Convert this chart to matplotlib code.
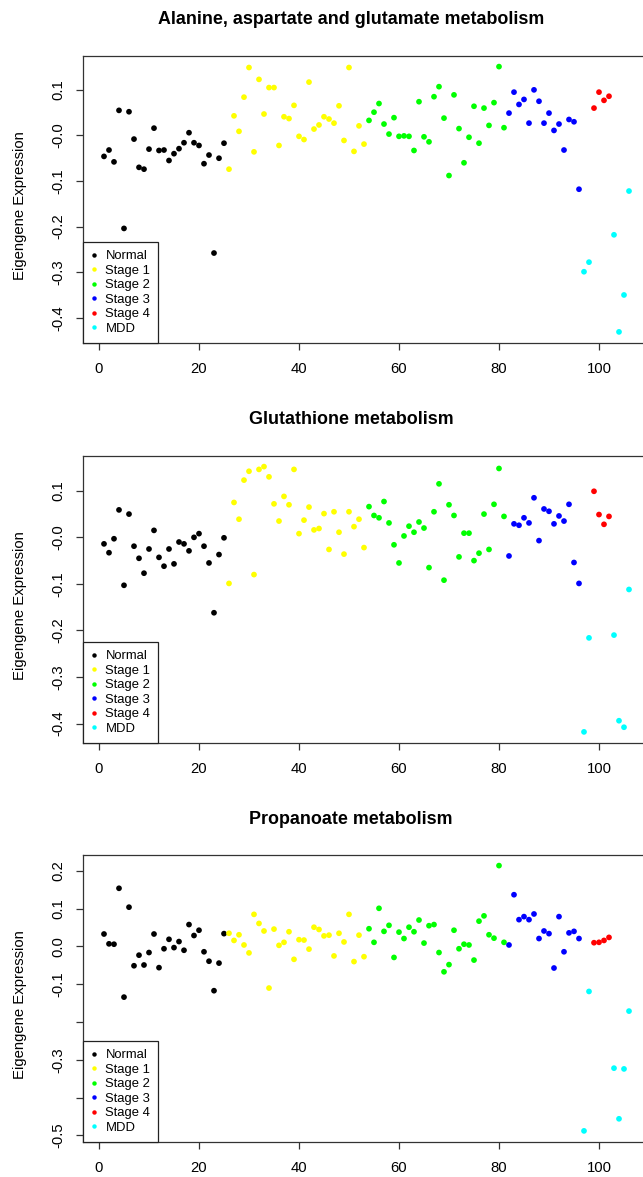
import numpy as np
import matplotlib
matplotlib.use("Agg")
import matplotlib.pyplot as plt
from matplotlib.lines import Line2D

plt.rcParams['font.family'] = ['Liberation Sans', 'DejaVu Sans']
plt.rcParams['axes.unicode_minus'] = False

# sample groups, in sample order (1..106)
group_runs = [("Normal", 25), ("Stage 1", 28), ("Stage 2", 28), ("Stage 3", 15),
              ("MDD", 2), ("Stage 4", 4), ("MDD", 4)]
legend_names = ["Normal", "Stage 1", "Stage 2", "Stage 3", "Stage 4", "MDD"]
group_colors = {"Normal": "black", "Stage 1": "yellow", "Stage 2": "#00FF00",
                "Stage 3": "blue", "Stage 4": "red", "MDD": "cyan"}

titles = ["Alanine, aspartate and glutamate metabolism",
          "Glutathione metabolism",
          "Propanoate metabolism"]

alanine = [
    -0.046, -0.032, -0.058, 0.055, -0.204, 0.052, -0.008, -0.070, -0.074, -0.030,
    0.016, -0.033, -0.032, -0.055, -0.040, -0.029, -0.016, 0.006, -0.016, -0.022,
    -0.062, -0.043, -0.258, -0.050, -0.017,
    -0.074, 0.043, 0.009, 0.084, 0.149, -0.036, 0.123, 0.047, 0.105, 0.105,
    -0.022, 0.041, 0.037, 0.066, -0.002, -0.009, 0.117, 0.014, 0.023, 0.041,
    0.036, 0.027, 0.065, -0.011, 0.149, -0.035, 0.021, -0.019,
    0.033, 0.051, 0.070, 0.025, 0.003, 0.039, -0.002, -0.001, -0.002, -0.033,
    0.074, -0.003, -0.014, 0.085, 0.107, 0.038, -0.088, 0.089, 0.015, -0.060,
    -0.004, 0.064, -0.017, 0.060, 0.022, 0.072, 0.151, 0.017,
    0.049, 0.095, 0.068, 0.079, 0.027, 0.100, 0.075, 0.027, 0.049, 0.011,
    0.025, -0.032, 0.035, 0.030, -0.118,
    -0.299, -0.278,
    0.060, 0.095, 0.077, 0.086,
    -0.218, -0.431, -0.350, -0.122]

glutathione = [
    -0.014, -0.033, -0.003, 0.059, -0.103, 0.050, -0.019, -0.045, -0.077, -0.025,
    0.015, -0.043, -0.062, -0.025, -0.057, -0.010, -0.014, -0.029, 0.000, 0.008,
    -0.019, -0.055, -0.162, -0.037, -0.001,
    -0.099, 0.075, 0.039, 0.123, 0.142, -0.080, 0.146, 0.152, 0.130, 0.072,
    0.035, 0.088, 0.070, 0.146, 0.008, 0.037, 0.065, 0.016, 0.019, 0.051,
    -0.026, 0.055, 0.011, -0.036, 0.055, 0.023, 0.039, -0.022,
    0.066, 0.047, 0.042, 0.077, 0.031, -0.016, -0.055, 0.003, 0.024, 0.011,
    0.033, 0.020, -0.065, 0.055, 0.115, -0.092, 0.070, 0.047, -0.042, 0.009,
    0.009, -0.050, -0.034, 0.050, -0.026, 0.071, 0.148, 0.045,
    -0.040, 0.029, 0.026, 0.042, 0.031, 0.085, -0.007, 0.061, 0.056, 0.029,
    0.046, 0.035, 0.071, -0.054, -0.099,
    -0.418, -0.216,
    0.099, 0.049, 0.028, 0.045,
    -0.210, -0.394, -0.408, -0.112]

propanoate = [
    0.033, 0.007, 0.006, 0.154, -0.134, 0.104, -0.051, -0.023, -0.049, -0.016,
    0.033, -0.056, -0.006, 0.019, -0.003, 0.013, -0.010, 0.058, 0.029, 0.043,
    -0.014, -0.039, -0.117, -0.044, 0.034,
    0.035, 0.016, 0.031, 0.004, -0.017, 0.085, 0.061, 0.041, -0.110, 0.046,
    0.003, 0.011, 0.039, -0.034, 0.018, 0.017, -0.007, 0.051, 0.045, 0.028,
    0.030, -0.025, 0.035, 0.012, 0.085, -0.040, 0.030, -0.027,
    0.047, 0.011, 0.101, 0.040, 0.056, -0.029, 0.038, 0.021, 0.051, 0.039,
    0.070, 0.009, 0.055, 0.058, -0.016, -0.067, -0.048, 0.043, -0.006, 0.006,
    0.004, -0.036, 0.067, 0.081, 0.031, 0.022, 0.214, 0.011,
    0.004, 0.137, 0.071, 0.079, 0.071, 0.086, 0.021, 0.041, 0.034, -0.057,
    0.079, -0.014, 0.036, 0.040, 0.021,
    -0.488, -0.119,
    0.010, 0.011, 0.016, 0.024,
    -0.322, -0.456, -0.324, -0.171]

yticks = [np.arange(-0.4, 0.11, 0.1), np.arange(-0.4, 0.11, 0.1), np.arange(-0.5, 0.21, 0.1)]
ytick_labels = [None, None, ["-0.5", "", "-0.3", "", "-0.1", "0.0", "0.1", "0.2"]]

groups = [g for g, n in group_runs for _ in range(n)]
colors = [group_colors[g] for g in groups]

W, H = 643, 1177
fig = plt.figure(figsize=(W / 100, H / 100), dpi=100)

tops = [56, 456, 855]
ax_h = 286.5
left, ax_w = 83, 567

for k, (vals, title) in enumerate(zip([alanine, glutathione, propanoate], titles)):
    vals = np.array(vals)
    x = np.arange(1, len(vals) + 1)
    ax = fig.add_axes([left / W, 1 - (tops[k] + ax_h) / H, ax_w / W, ax_h / H])
    ax.scatter(x, vals, s=17, c=colors, edgecolors='none', zorder=3)

    # R style 4% padding
    xr = x.max() - x.min()
    ax.set_xlim(x.min() - 0.04 * xr, x.max() + 0.04 * xr)
    yr = vals.max() - vals.min()
    ax.set_ylim(vals.min() - 0.04 * yr, vals.max() + 0.04 * yr)

    ax.set_xticks([0, 20, 40, 60, 80, 100])
    ax.set_yticks(yticks[k])
    if ytick_labels[k] is not None:
        ax.set_yticklabels(ytick_labels[k])
    else:
        ax.set_yticklabels(["%.1f" % v for v in yticks[k]])
    ax.tick_params(axis='both', direction='out', length=5, width=0.9,
                   color='#333333', labelsize=10.7, pad=8)
    ax.tick_params(axis='x', pad=9)
    for lab in ax.get_yticklabels():
        lab.set_rotation(90)
        lab.set_va('center')
    for sp in ax.spines.values():
        sp.set_color('#333333')
        sp.set_linewidth(0.9)

    fig.text(351 / W, 1 - (tops[k] - 36) / H, title, ha='center', va='center',
             fontsize=12.9, fontweight='bold')
    fig.text(20 / W, 1 - (tops[k] + ax_h / 2 + 6) / H, "Eigengene Expression",
             rotation=90, ha='center', va='center', fontsize=10.7)

    handles = [Line2D([], [], ls='none', marker='o', markersize=3.2,
                      markerfacecolor=group_colors[n], markeredgecolor='none')
               for n in legend_names]
    leg = ax.legend(handles, legend_names, loc='lower left', bbox_to_anchor=(0, 0),
                    borderaxespad=0, fontsize=9.4, frameon=True, fancybox=False,
                    labelspacing=0.18, handlelength=0.45, handletextpad=0.67,
                    borderpad=0.6, framealpha=1)
    leg.get_frame().set_edgecolor('#222222')
    leg.get_frame().set_linewidth(0.9)

fig.savefig("out.png", dpi=100)
